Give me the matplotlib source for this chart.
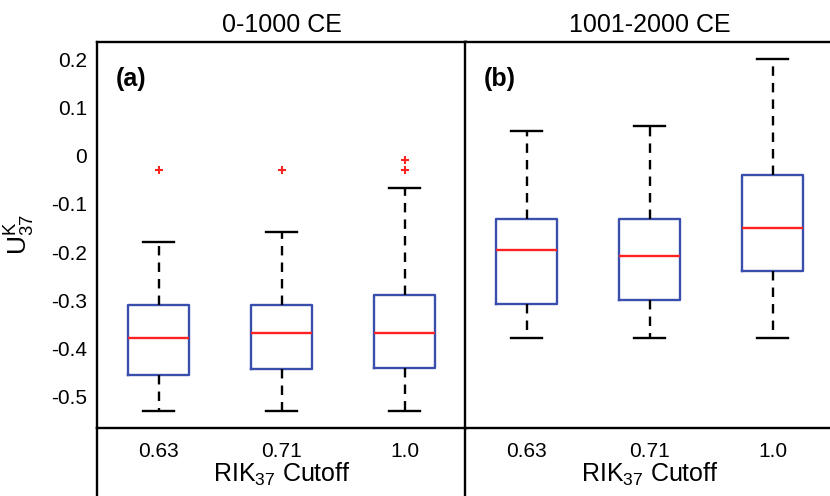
import matplotlib
matplotlib.use('Agg')
import matplotlib.pyplot as plt
from matplotlib.lines import Line2D

plt.rcParams['font.family'] = ['Liberation Sans', 'DejaVu Sans']
plt.rcParams['mathtext.fontset'] = 'custom'
plt.rcParams['mathtext.rm'] = 'Liberation Sans'
plt.rcParams['mathtext.it'] = 'Liberation Sans'
plt.rcParams['axes.unicode_minus'] = False

# box summary values
cutoffs = ['0.63', '0.71', '1.0']
periods = ['0-1000 CE', '1001-2000 CE']
panel_tags = ['(a)', '(b)']

# 0-1000 CE
a_whislo = [-0.529, -0.529, -0.529]
a_q1 = [-0.454, -0.442, -0.440]
a_med = [-0.379, -0.368, -0.368]
a_q3 = [-0.310, -0.310, -0.288]
a_whishi = [-0.179, -0.158, -0.068]
a_fliers = [[-0.030], [-0.030], [-0.009, -0.030]]

# 1001-2000 CE
b_whislo = [-0.378, -0.378, -0.378]
b_q1 = [-0.308, -0.300, -0.240]
b_med = [-0.196, -0.209, -0.149]
b_q3 = [-0.131, -0.131, -0.039]
b_whishi = [0.052, 0.061, 0.201]
b_fliers = [[], [], []]

yticks = [0.2, 0.1, 0.0, -0.1, -0.2, -0.3, -0.4, -0.5]
ytick_labels = ['0.2', '0.1', '0', '-0.1', '-0.2', '-0.3', '-0.4', '-0.5']


def make_stats(lo, q1, med, q3, hi, fl):
    out = []
    for i in range(len(lo)):
        out.append(dict(whislo=lo[i], q1=q1[i], med=med[i], q3=q3[i],
                        whishi=hi[i], fliers=fl[i]))
    return out


stats = [make_stats(a_whislo, a_q1, a_med, a_q3, a_whishi, a_fliers),
         make_stats(b_whislo, b_q1, b_med, b_q3, b_whishi, b_fliers)]

W, H = 830, 496
fig = plt.figure(figsize=(W / 100, H / 100), dpi=100)
top, bot = 42, 428
lefts = [97, 465]
axw = 369

blue = '#3a4eae'
red = '#ff2222'
lw = 1.7

axes = []
for k in range(2):
    ax = fig.add_axes([lefts[k] / W, 1 - bot / H, axw / W, (bot - top) / H])
    ax.bxp(stats[k], positions=[1, 2, 3], widths=0.5, capwidths=0.25,
           boxprops=dict(color=blue, linewidth=lw),
           whiskerprops=dict(color='black', linewidth=lw, linestyle=(0, (4, 3))),
           capprops=dict(color='black', linewidth=lw),
           medianprops=dict(color=red, linewidth=lw),
           flierprops=dict(marker='+', markeredgecolor=red, markersize=5.5,
                           markeredgewidth=1.5, linestyle='none'))
    ax.set_xlim(0.5, 3.5)
    ax.set_ylim(-0.565, 0.236)
    ax.set_xticks([1, 2, 3])
    ax.set_xticklabels(cutoffs, fontsize=15)
    ax.tick_params(axis='both', length=0)
    ax.tick_params(axis='x', pad=10)
    ax.set_yticks(yticks)
    if k == 0:
        ax.set_yticklabels(ytick_labels, fontsize=15)
        ax.tick_params(axis='y', pad=7)
        ax.set_ylabel(r'U$^{\mathrm{K}}_{\mathrm{37}}$', fontsize=19, labelpad=10)
    else:
        ax.set_yticklabels([])
    for s in ax.spines.values():
        s.set_linewidth(lw)
    ax.set_title(periods[k], fontsize=18, pad=7)
    ax.set_xlabel(r'RIK$_{37}$ Cutoff', fontsize=18, labelpad=0)
    ax.text(0.05, 0.905, panel_tags[k], transform=ax.transAxes, fontsize=18,
            fontweight='bold', va='center', ha='left')
    axes.append(ax)

# divider lines continuing through the label strip
for x in lefts:
    fig.add_artist(Line2D([x / W, x / W], [0, 1 - bot / H], color='black',
                          linewidth=lw, transform=fig.transFigure))

fig.savefig('out.png', dpi=100)
